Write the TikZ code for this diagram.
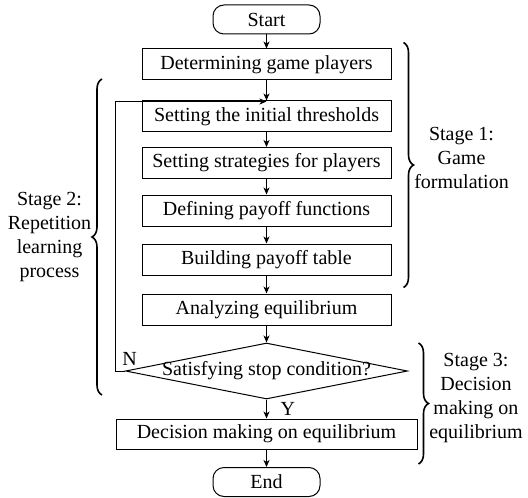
\documentclass[tikz,border=0pt]{standalone}
\usepackage{fontspec}
\setmainfont{Liberation Serif}
\usetikzlibrary{positioning,shapes.geometric,arrows.meta,decorations.pathreplacing}

\begin{document}
\begin{tikzpicture}[>={Stealth[length=3.5pt,width=3pt,inset=1pt]},node distance=24pt,on grid,
       line width=0.5pt,font=\fontsize{10}{12}\selectfont,
       block/.style={draw,rectangle,minimum width=124.5pt,minimum height=15.5pt,inner sep=0pt},
       terminal/.style={draw,rectangle,rounded corners=5.5pt,minimum width=53.5pt,minimum height=14.5pt,inner sep=0pt},
       decision/.style={draw,diamond,minimum width=141pt,minimum height=28pt,inner sep=0pt},
       stage/.style={align=center,inner sep=0pt},
       bracket/.style={decorate,line width=0.8pt,decoration={brace,amplitude=5pt}}]
       \useasboundingbox (0,0) rectangle (264pt,-248.5pt);
       \node [terminal] (start) at (133.25pt,-9.75pt) {Start};
       \node [block, below=22.5pt of start] (players) {Determining game players};
       \node [block, below=26pt of players] (thresh) {Setting the initial thresholds};
       \node [block, below=23.25pt of thresh] (strat) {Setting strategies for players};
       \node [block, below=23.75pt of strat] (payoff) {Defining payoff functions};
       \node [block, below=24.5pt of payoff] (table) {Building payoff table};
       \node [block, below=25pt of table] (equil) {Analyzing equilibrium};
       \node [decision, below=30.75pt of equil] (stop) {};
       \node [inner sep=0pt] (stoptext) at (stop.center) {Satisfying stop condition?};
       \node [block, minimum width=150.5pt, minimum height=15pt, below=31.5pt of stop] (decide) {Decision making on equilibrium};
       \node [terminal, below=24pt of decide] (end) {End};
       \coordinate [below=10.5pt of players.south] (join);
        \path[->]
        (start) edge (players)
        (players) edge (thresh)
        (thresh) edge (strat)
        (strat) edge (payoff)
        (payoff) edge (table)
        (table) edge (equil)
        (equil) edge (stop)
        (stop) edge node [right=3.5pt] (yes) {Y} (decide)
        (decide) edge (end);
        \draw[->] (stop.west) -- ++(-5pt,0) |- (join);
        \node [above=2.5pt of stop.west, xshift=2.25pt, anchor=south, inner sep=0pt] (no) {N};
        % stage braces
        \draw[bracket] ([shift={(6pt,3pt)}]players.north east) -- ([shift={(6pt,-6pt)}]table.south east)
              node [stage, midway, right=5pt, yshift=3.75pt, anchor=west] (stage1) {Stage 1:\\Game\\formulation};
        \draw[bracket] (51pt,-197.5pt) -- (51pt,-39.5pt)
              node [stage, midway, left=5pt, anchor=east] (stage2) {Stage 2:\\Repetition\\learning\\process};
        \draw[bracket] (209.25pt,-171.5pt) -- (209.25pt,-232pt)
              node [stage, midway, right=5pt, yshift=2.75pt, anchor=west] (stage3) {Stage 3:\\Decision\\making on\\equilibrium};
    \end{tikzpicture}
\end{document}
